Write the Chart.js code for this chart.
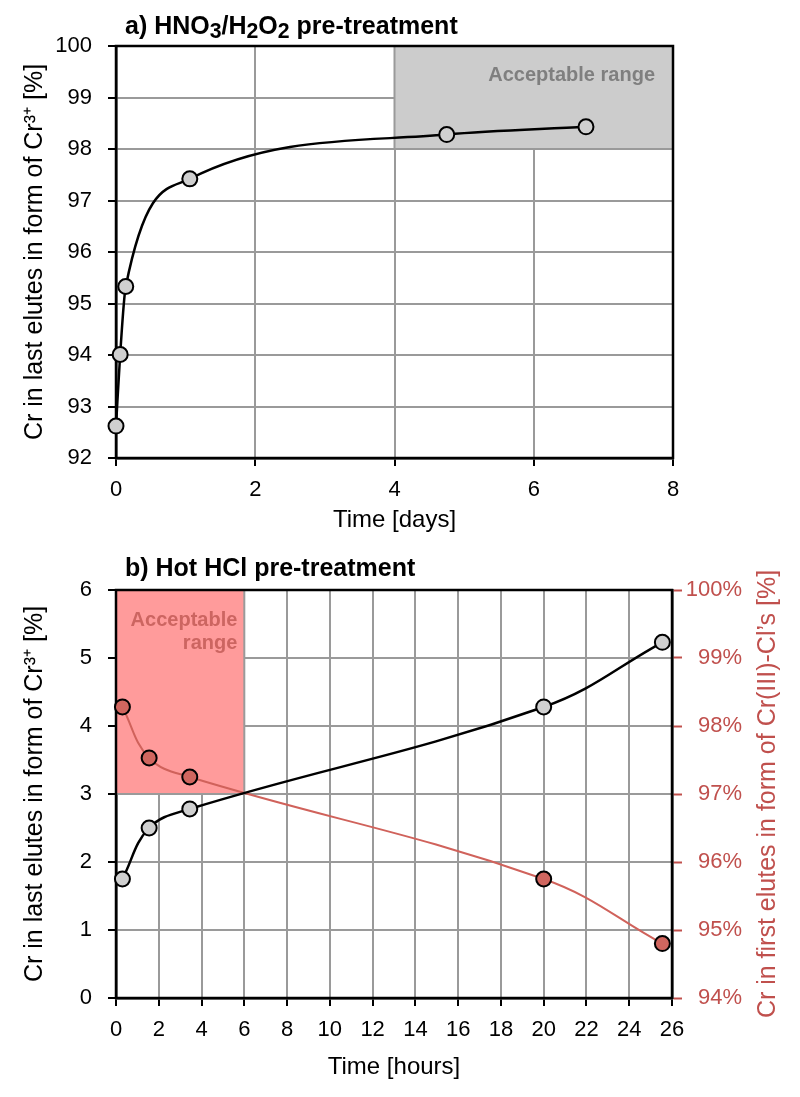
<!DOCTYPE html>
<html><head><meta charset="utf-8">
<script src="https://cdn.jsdelivr.net/npm/chart.js@4.4.1/dist/chart.umd.min.js"></script>
<style>
html,body{margin:0;padding:0;background:#fff;}
#wrap{width:800px;height:1097px;position:relative;}
canvas{position:absolute;left:0;}
</style></head><body>
<div id="wrap">
<canvas id="c1" width="800" height="548" style="top:0"></canvas>
<canvas id="c2" width="800" height="549" style="top:548px"></canvas>
</div>
<script>
// ---- data ----
const daysA = [0, 0.06, 0.14, 1.06, 4.75, 6.75];
const crLastA = [92.62, 94.01, 95.33, 97.42, 98.28, 98.43];
const hoursB = [0.3, 1.55, 3.45, 20, 25.55];
const crLastB = [1.75, 2.5, 2.78, 4.28, 5.23];
const crFirstB = [98.28, 97.53, 97.25, 95.75, 94.80];
const rangeA = [4, 8, 98, 100];   // xMin, xMax, yMin, yMax
const rangeB = [0, 6, 3, 6];

const F = "'Liberation Sans', Arial, sans-serif";
const GRID = '#9a9a9a';
const RED = '#c0504d';

function xy(xs, ys){ return xs.map((v,i)=>({x:v, y:ys[i]})); }

function richText(ctx, x, y, parts, size){
  for (const p of parts){
    const s = p.s ? size*p.s : size;
    ctx.font = 'bold ' + s + 'px ' + F;
    ctx.fillText(p.t, x, y + (p.dy||0));
    x += ctx.measureText(p.t).width;
  }
}

function boxPlugin(range, fill, textColor, lines, yScaleId){
  return {
    id:'box',
    beforeDatasetsDraw(chart){
      const {ctx, chartArea:a} = chart;
      const xs = chart.scales.x, ys = chart.scales[yScaleId];
      const x0 = xs.getPixelForValue(range[0]), x1 = xs.getPixelForValue(range[1]);
      const y0 = ys.getPixelForValue(range[2]), y1 = ys.getPixelForValue(range[3]);
      ctx.save();
      ctx.fillStyle = fill;
      ctx.fillRect(x0, y1, x1-x0, y0-y1);
      ctx.strokeStyle = GRID; ctx.lineWidth = 2;
      ctx.strokeRect(x0, y1, x1-x0, y0-y1);
      ctx.fillStyle = textColor;
      ctx.font = 'bold 20px ' + F;
      ctx.textAlign = 'right'; ctx.textBaseline = 'middle';
      for (const l of lines) ctx.fillText(l.t, x1 - l.dx, y1 + l.dy);
      ctx.strokeStyle = '#000'; ctx.lineWidth = 2.5;
      ctx.strokeRect(a.left, a.top, a.right-a.left, a.bottom-a.top);
      ctx.restore();
    }
  };
}

function titlePlugin(parts, x, y, extra){
  return {
    id:'ttl',
    afterDraw(chart){
      const ctx = chart.ctx;
      ctx.save();
      ctx.fillStyle = '#000'; ctx.textAlign = 'left'; ctx.textBaseline = 'alphabetic';
      richText(ctx, x, y, parts, 25);
      if (extra) extra(ctx, chart);
      ctx.restore();
    }
  };
}

const pointStyle = (fill) => ({
  pointRadius:7.5, pointBackgroundColor:fill, pointBorderColor:'#000', pointBorderWidth:2,
  clip:false, fill:false
});

const tickFont = {size:22, family:F};
const titleFont = {size:24, family:F};
const vTitleFont = {size:25, family:F};

// ---- chart a ----
new Chart(document.getElementById('c1'), {
  type:'line',
  data:{datasets:[Object.assign({data:xy(daysA, crLastA), borderColor:'#000', borderWidth:2.5, cubicInterpolationMode:'monotone'}, pointStyle('#d0d0d0'))]},
  options:{
    responsive:false, animation:false, events:[],
    layout:{padding:{top:46, right:127, left:0, bottom:0}},
    plugins:{legend:{display:false}, tooltip:{enabled:false}},
    scales:{
      x:{type:'linear', min:0, max:8,
        ticks:{stepSize:2, color:'#000', font:tickFont, padding:11, maxRotation:0},
        grid:{color:GRID, lineWidth:2, tickColor:'#000', tickLength:8, tickWidth:2},
        border:{color:'#000', width:2.5},
        title:{display:true, text:'Time [days]', color:'#000', font:titleFont, padding:{top:0, bottom:13}},
        afterFit:s=>{s.height=90;}},
      y:{type:'linear', min:92, max:100,
        ticks:{stepSize:1, color:'#000', font:tickFont, padding:16},
        grid:{color:GRID, lineWidth:2, tickColor:'#000', tickLength:8, tickWidth:2},
        border:{color:'#000', width:2.5},
        title:{display:true, text:'Cr in last elutes in form of Cr³⁺ [%]', color:'#000', font:vTitleFont, padding:{top:20, bottom:0}},
        afterFit:s=>{s.width=116;}}
    }
  },
  plugins:[
    boxPlugin(rangeA, '#cccccc', '#7f7f7f', [{t:'Acceptable range', dx:18, dy:29}], 'y'),
    titlePlugin([{t:'a) HNO'},{t:'3',s:0.85,dy:4},{t:'/H'},{t:'2',s:0.85,dy:4},{t:'O'},{t:'2',s:0.85,dy:4},{t:' pre-treatment'}], 125, 34)
  ]
});

// ---- chart b ----
new Chart(document.getElementById('c2'), {
  type:'line',
  data:{datasets:[
    Object.assign({data:xy(hoursB, crLastB), borderColor:'#000', borderWidth:2.5, tension:0.4, yAxisID:'y'}, pointStyle('#d0d0d0')),
    Object.assign({data:xy(hoursB, crFirstB), borderColor:'#d0625b', borderWidth:2, tension:0.4, yAxisID:'y2'}, pointStyle('#d0665f'))
  ]},
  options:{
    responsive:false, animation:false, events:[],
    layout:{padding:{top:42, right:58, left:0, bottom:0}},
    plugins:{legend:{display:false}, tooltip:{enabled:false}},
    scales:{
      x:{type:'linear', min:0, max:26,
        ticks:{stepSize:2, color:'#000', font:tickFont, padding:11, maxRotation:0},
        grid:{color:GRID, lineWidth:2, tickColor:'#000', tickLength:8, tickWidth:2},
        border:{color:'#000', width:2.5},
        title:{display:true, text:'Time [hours]', color:'#000', font:titleFont, padding:{top:0, bottom:15}},
        afterFit:s=>{s.height=99;}},
      y:{type:'linear', position:'left', min:0, max:6,
        ticks:{stepSize:1, color:'#000', font:tickFont, padding:16},
        grid:{color:GRID, lineWidth:2, tickColor:'#000', tickLength:8, tickWidth:2},
        border:{color:'#000', width:2.5},
        title:{display:true, text:'Cr in last elutes in form of Cr³⁺ [%]', color:'#000', font:vTitleFont, padding:{top:20, bottom:0}},
        afterFit:s=>{s.width=116;}},
      y2:{type:'linear', position:'right', min:94, max:100,
        ticks:{stepSize:1, color:RED, font:tickFont, padding:4, crossAlign:'far', callback:v=>v+'%'},
        grid:{drawOnChartArea:false, color:RED, tickColor:RED, tickLength:10, tickWidth:2},
        border:{color:'#000', width:2.5},
        afterFit:s=>{s.width=70;}}
    }
  },
  plugins:[
    boxPlugin(rangeB, '#ff9b9b', '#cc6561', [{t:'Acceptable', dx:7, dy:30},{t:'range', dx:7, dy:53}], 'y'),
    titlePlugin([{t:'b) Hot HCl pre-treatment'}], 125, 28, (ctx, chart)=>{
      const a = chart.chartArea;
      ctx.translate(768, (a.top+a.bottom)/2);
      ctx.rotate(-Math.PI/2);
      ctx.fillStyle = RED; ctx.textAlign = 'center'; ctx.textBaseline = 'middle';
      ctx.font = '25px ' + F;
      ctx.fillText("Cr in first elutes in form of Cr(III)-Cl’s [%]", 0, 0);
    })
  ]
});
</script>
</body></html>
